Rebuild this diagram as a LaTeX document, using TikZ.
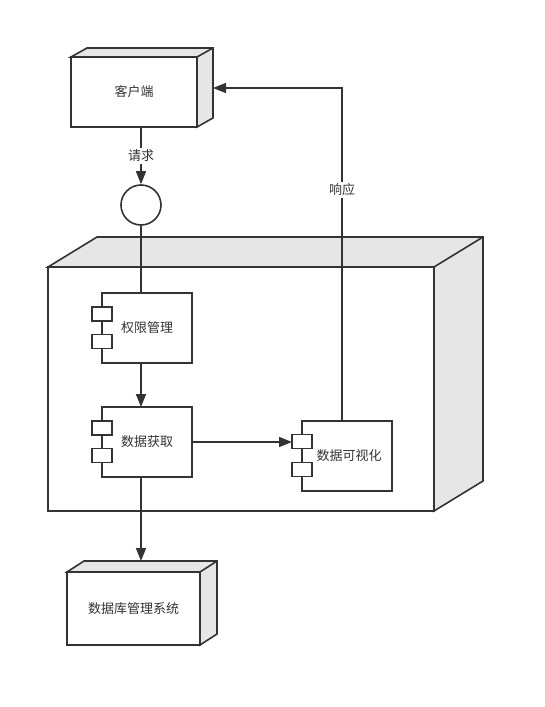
\documentclass[tikz,border=0pt]{standalone}
\usepackage{fontspec}
\setmainfont{Noto Sans CJK SC}
\usetikzlibrary{arrows.meta}
\definecolor{ln}{HTML}{333333}
\definecolor{facec}{HTML}{E6E6E6}
\begin{document}
\begin{tikzpicture}[x=1pt,y=-1pt,
  box/.style={draw=ln, fill=white, line width=1.6pt, inner sep=0pt, outer sep=0pt, font=\fontsize{13}{15}\selectfont, text=ln},
  face/.style={draw=ln, fill=facec, line width=1.6pt},
  port/.style={draw=ln, fill=white, line width=1.6pt, minimum width=20pt, minimum height=14pt, inner sep=0pt, outer sep=0pt},
  conn/.style={draw=ln, line width=1.5pt},
  arr/.style={conn, -{Triangle[length=13pt,width=10pt]}},
  lbl/.style={fill=white, text=ln, font=\fontsize{13}{15}\selectfont, inner sep=2pt}
]
\path[use as bounding box, fill=white] (0,0) rectangle (545,707);

% client
\node[box, minimum width=126pt, minimum height=70pt] (client) at (134,92) {客户端};
\draw[face] (client.north west) -- ++(16,-9) -- ++(126,0) -- ++(0,70) -- (client.south east) -- (client.north east) -- cycle;
\draw[face] (client.north east) -- ++(16,-9);

% interface circle
\node[draw=ln, line width=1.6pt, circle, minimum size=40pt, inner sep=0pt, fill=white] (iface) at (141,205) {};

% server node
\node[box, minimum width=386pt, minimum height=244pt] (server) at (241,389) {};
\draw[face] (server.north west) -- ++(49,-30) -- ++(386,0) -- ++(0,244) -- (server.south east) -- (server.north east) -- cycle;
\draw[face] (server.north east) -- ++(49,-30);

% database
\node[box, minimum width=133pt, minimum height=73pt] (db) at (133.5,608.5) {数据库管理系统};
\draw[face] (db.north west) -- ++(17,-11) -- ++(133,0) -- ++(0,73) -- (db.south east) -- (db.north east) -- cycle;
\draw[face] (db.north east) -- ++(17,-11);

% components
\node[box, minimum width=90pt, minimum height=70pt] (c1) at (147,328) {权限管理};
\node[port] (p11) at (102,314) {};
\node[port] (p12) at (102,341.5) {};

\node[box, minimum width=90pt, minimum height=70pt] (c2) at (147,442) {数据获取};
\node[port] (p21) at (102,428) {};
\node[port] (p22) at (102,455.5) {};

\node[box, minimum width=90pt, minimum height=70pt] (c3) at (347,456) {\hspace*{4pt}数据可视化};
\node[port] (p31) at (302,441.5) {};
\node[port] (p32) at (302,469.5) {};

% helper coordinates
\coordinate (dbtop) at ([yshift=11pt]db.north);
\coordinate (clientR) at ([xshift=16pt,yshift=4pt]client.east);
\coordinate (c3top) at ([xshift=-5pt]c3.north);

% connectors
\draw[arr] (client.south -| iface.north) -- node[lbl, pos=0.5]{请求} (iface.north);
\draw[conn] (iface.south) -- (iface.south |- c1.north);
\draw[arr] (iface |- c1.south) -- (iface |- c2.north);
\draw[arr] (c2.east) -- (c2.east -| p31.west);
\draw[arr] (iface |- c2.south) -- (iface |- dbtop);
\draw[arr, line width=1.3pt] (c3top) |- node[lbl, pos=0.347]{响应} (clientR);
\end{tikzpicture}
\end{document}
